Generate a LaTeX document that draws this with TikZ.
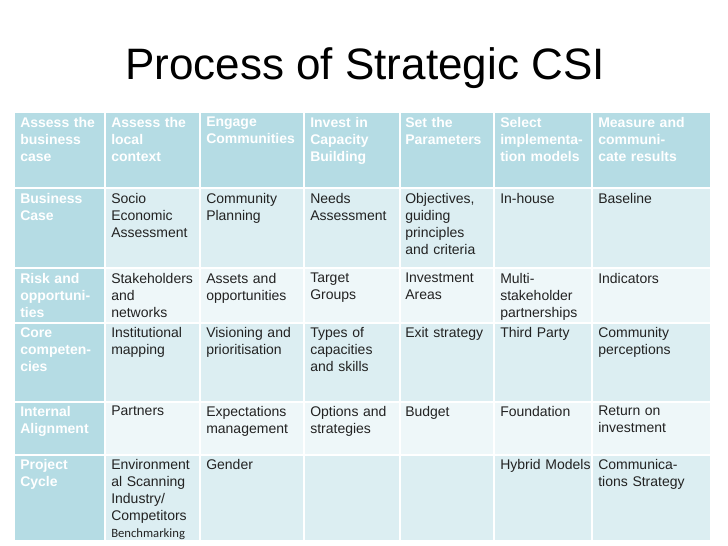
\documentclass[tikz,border=0pt]{standalone}
\usepackage{fontspec}
\setmainfont{Liberation Sans}
\newfontfamily\carl{Carlito}
\definecolor{hd}{HTML}{B5DCE4}
\definecolor{rd}{HTML}{DCEEF2}
\definecolor{rl}{HTML}{EEF7F9}
\definecolor{tx}{HTML}{222222}
\begin{document}
\begin{tikzpicture}[x=0.75pt,y=-0.75pt,
  hcell/.style={anchor=north west,inner sep=0pt,text width=72pt,align=left,font=\fontsize{10.5}{12.75}\selectfont\bfseries,text=white},
  bcell/.style={anchor=north west,inner sep=0pt,text width=72pt,align=left,font=\fontsize{10.5}{12.75}\selectfont,text=tx}]
\useasboundingbox (0,0) rectangle (728,546);
\fill[white] (0,0) rectangle (728,546);
\node[font=\fontsize{33}{36}\selectfont,text=black] (title) at (365,68) {Process of Strategic CSI};
% backgrounds
\fill[hd] (15,113) rectangle (710,188);
\fill[rd] (15,188) rectangle (710,268);
\fill[rl] (15,268) rectangle (710,323);
\fill[rd] (15,323) rectangle (710,402);
\fill[rl] (15,402) rectangle (710,455);
\fill[rd] (15,455) rectangle (710,540);
\fill[hd] (15,188) rectangle (105,540);
\foreach \x in {105,200,304,400,494,592} \draw[white,line width=1.5pt] (\x,113) -- (\x,540);
\foreach \y in {188,268,323,402,455} \draw[white,line width=1.5pt] (15,\y) -- (710,\y);
% header
\node[hcell] (h1) at (20,117) {Assess the\\business\\case};
\node[hcell] (h2) at (111,117) {Assess the\\local\\context};
\node[hcell] (h3) at (206,117) {Engage\\Communities};
\node[hcell] (h4) at (310,117) {Invest in\\Capacity\\Building};
\node[hcell] (h5) at (405,117) {Set the\\Parameters};
\node[hcell] (h6) at (500,117) {Select\\implementa-\\tion models};
\node[hcell,text width=85pt] (h7) at (598,117) {Measure and\\communi-\\cate results};
% row 1
\node[hcell] (r1c1) at (20,193) {Business\\Case};
\node[bcell] (r1c2) at (111,193) {Socio\\Economic\\Assessment};
\node[bcell] (r1c3) at (206,193) {Community\\Planning};
\node[bcell] (r1c4) at (310,193) {Needs\\Assessment};
\node[bcell] (r1c5) at (405,193) {Objectives,\\guiding\\principles\\and criteria};
\node[bcell] (r1c6) at (500,193) {In-house};
\node[bcell] (r1c7) at (598,193) {Baseline};
% row 2
\node[hcell] (r2c1) at (20,273) {Risk and\\opportuni-\\ties};
\node[bcell] (r2c2) at (111,273) {Stakeholders\\and\\networks};
\node[bcell] (r2c3) at (206,273) {Assets and\\opportunities};
\node[bcell] (r2c4) at (310,273) {Target\\Groups};
\node[bcell] (r2c5) at (405,273) {Investment\\Areas};
\node[bcell] (r2c6) at (500,273) {Multi-\\stakeholder\\partnerships};
\node[bcell] (r2c7) at (598,273) {Indicators};
% row 3
\node[hcell] (r3c1) at (20,327) {Core\\competen-\\cies};
\node[bcell] (r3c2) at (111,327) {Institutional\\mapping};
\node[bcell] (r3c3) at (206,327) {Visioning and\\prioritisation};
\node[bcell] (r3c4) at (310,327) {Types of\\capacities\\and skills};
\node[bcell] (r3c5) at (405,327) {Exit strategy};
\node[bcell] (r3c6) at (500,327) {Third Party};
\node[bcell] (r3c7) at (598,327) {Community\\perceptions};
% row 4
\node[hcell] (r4c1) at (20,406) {Internal\\Alignment};
\node[bcell] (r4c2) at (111,406) {Partners};
\node[bcell] (r4c3) at (206,406) {Expectations\\management};
\node[bcell] (r4c4) at (310,406) {Options and\\strategies};
\node[bcell] (r4c5) at (405,406) {Budget};
\node[bcell] (r4c6) at (500,406) {Foundation};
\node[bcell] (r4c7) at (598,406) {Return on\\investment};
% row 5
\node[hcell] (r5c1) at (20,459) {Project\\Cycle};
\node[bcell] (r5c2) at (111,459) {Environment\\al Scanning\\Industry/\\Competitors\\{\carl\fontsize{9.5}{12.75}\selectfont Benchmarking}};
\node[bcell] (r5c3) at (206,459) {Gender};
\node[bcell] (r5c6) at (500,459) {Hybrid Models};
\node[bcell,text width=85pt] (r5c7) at (598,459) {Communica-\\tions Strategy};
\end{tikzpicture}
\end{document}
